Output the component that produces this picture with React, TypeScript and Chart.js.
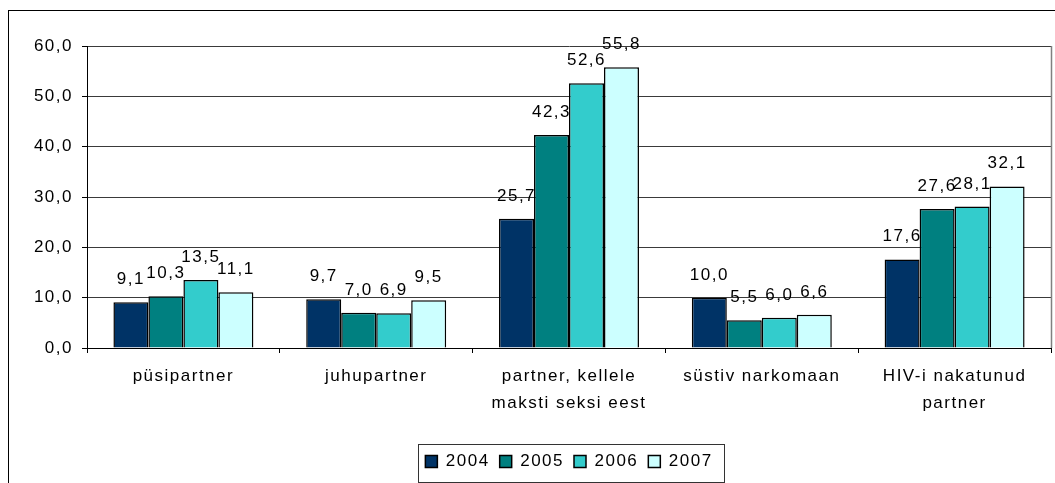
import React, { useEffect, useRef } from "react";
import { Chart, registerables } from "chart.js";

Chart.register(...registerables);

const categories: (string | string[])[] = [
  "püsipartner",
  "juhupartner",
  ["partner, kellele", "maksti seksi eest"],
  "süstiv narkomaan",
  ["HIV-i nakatunud", "partner"],
];
const seriesLabels = ["2004", "2005", "2006", "2007"];
const values2004 = [9.1, 9.7, 25.7, 10.0, 17.6];
const values2005 = [10.3, 7.0, 42.3, 5.5, 27.6];
const values2006 = [13.5, 6.9, 52.6, 6.0, 28.1];
const values2007 = [11.1, 9.5, 55.8, 6.6, 32.1];
const seriesColors = ["#003366", "#008080", "#33CCCC", "#CCFFFF"];
const yMin = 0;
const yMax = 60;
const yStep = 10;

const FONT = "'Liberation Sans', Arial, sans-serif";
const fmt = (v: number) => v.toFixed(1).replace(".", ",");

const spacingPlugin = {
  id: "spacing",
  beforeUpdate(chart: any) {
    chart.ctx.letterSpacing = "1.5px";
  },
  beforeLayout(chart: any) {
    chart.ctx.letterSpacing = "1.5px";
  },
  beforeDraw(chart: any) {
    chart.ctx.letterSpacing = "1.5px";
  },
};

const decorPlugin = {
  id: "decor",
  beforeDatasetsDraw(chart: any) {
    const { ctx, chartArea } = chart;
    ctx.save();
    ctx.strokeStyle = "#808080";
    ctx.lineWidth = 1.5;
    ctx.beginPath();
    ctx.moveTo(Math.round(chartArea.right) + 0.5, chartArea.top);
    ctx.lineTo(Math.round(chartArea.right) + 0.5, chartArea.bottom);
    ctx.stroke();
    ctx.restore();
  },
  afterDatasetsDraw(chart: any) {
    const { ctx } = chart;
    ctx.save();
    ctx.letterSpacing = "1.5px";
    ctx.font = `17px ${FONT}`;
    ctx.fillStyle = "#000";
    ctx.textAlign = "center";
    ctx.textBaseline = "alphabetic";
    chart.data.datasets.forEach((ds: any, i: number) => {
      const meta = chart.getDatasetMeta(i);
      meta.data.forEach((bar: any, j: number) => {
        ctx.fillText(fmt(ds.data[j]), bar.x, bar.y - 18);
      });
    });
    ctx.restore();
  },
  afterDraw(chart: any) {
    const lg = chart.legend;
    if (!lg || !lg.legendHitBoxes || !lg.legendHitBoxes.length) return;
    const hb = lg.legendHitBoxes;
    const left = Math.min(...hb.map((h: any) => h.left));
    const right = Math.max(...hb.map((h: any) => h.left + h.width));
    const top = hb[0].top;
    const h = hb[0].height;
    const { ctx } = chart;
    ctx.save();
    ctx.strokeStyle = "#333";
    ctx.lineWidth = 1;
    const x0 = Math.round(left - 7) + 0.5;
    const y0 = Math.round(top - 9.5) + 0.5;
    const x1 = Math.round(right + 11) + 0.5;
    const y1 = Math.round(top + h + 11.5) + 0.5;
    ctx.strokeRect(x0, y0, x1 - x0, y1 - y0);
    ctx.restore();
  },
};

export default function App() {
  const ref = useRef<HTMLCanvasElement | null>(null);

  useEffect(() => {
    if (!ref.current) return;
    Chart.defaults.font.family = FONT;
    Chart.defaults.color = "#000";
    const allValues = [values2004, values2005, values2006, values2007];
    const chart = new Chart(ref.current, {
      type: "bar",
      data: {
        labels: categories,
        datasets: seriesLabels.map((label, i) => ({
          label,
          data: allValues[i],
          backgroundColor: seriesColors[i],
          borderColor: "#000",
          borderWidth: 1.5,
          categoryPercentage: 0.726,
          barPercentage: 1,
        })),
      },
      options: {
        animation: false,
        responsive: false,
        devicePixelRatio: 1,
        layout: { padding: { top: 35, right: 4, left: 0, bottom: 3 } },
        scales: {
          x: {
            grid: {
              display: true,
              drawOnChartArea: false,
              drawTicks: true,
              tickLength: 5,
              tickColor: "#000",
              offset: true,
            },
            border: { color: "#000", width: 1 },
            ticks: {
              font: { size: 17, lineHeight: 1.6 },
              color: "#000",
              padding: 10,
              maxRotation: 0,
              autoSkip: false,
            },
            afterFit(scale: any) {
              scale.height = 95;
            },
          },
          y: {
            min: yMin,
            max: yMax,
            grid: {
              color: "#3a3a3a",
              tickLength: 5,
              tickColor: "#000",
            },
            border: { color: "#000", width: 1 },
            ticks: {
              stepSize: yStep,
              font: { size: 17 },
              color: "#000",
              padding: 9,
              callback: (v: any) => fmt(Number(v)),
            },
            afterFit(scale: any) {
              scale.width = 78;
            },
          },
        },
        plugins: {
          tooltip: { enabled: false },
          legend: {
            position: "bottom",
            fullSize: false,
            labels: {
              boxWidth: 12,
              boxHeight: 12,
              padding: 10,
              font: { size: 17 },
              color: "#000",
            },
          },
        },
      },
      plugins: [spacingPlugin, decorPlugin],
    } as any);
    return () => chart.destroy();
  }, []);

  return (
    <div
      style={{
        position: "fixed",
        left: 8,
        top: 10,
        width: 1060,
        height: 480,
        borderLeft: "1px solid #000",
        borderTop: "1px solid #000",
        background: "#fff",
      }}
    >
      <canvas
        ref={ref}
        width={1046}
        height={472}
        style={{ display: "block", width: 1046, height: 472 }}
      />
    </div>
  );
}
